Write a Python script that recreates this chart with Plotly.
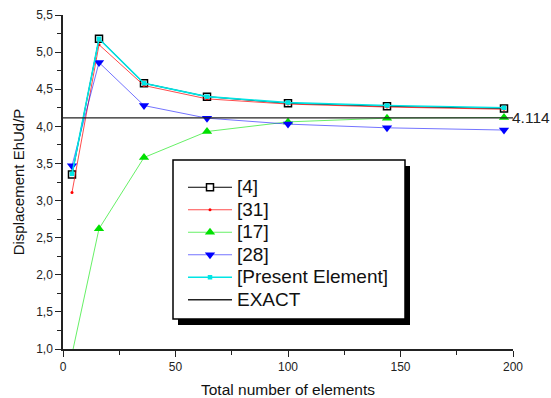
import plotly.graph_objects as go

# Mesh sizes (total number of elements) and displacement results
n_elements = [4, 16, 36, 64, 100, 144, 196]
ref_4 = [3.35, 5.18, 4.58, 4.40, 4.31, 4.27, 4.24]
ref_31 = [3.11, 5.10, 4.55, 4.37, 4.30, 4.26, 4.23]
ref_17 = [0.93, 2.62, 3.58, 3.93, 4.06, 4.11, 4.12]
ref_28 = [3.47, 4.86, 4.28, 4.11, 4.03, 3.98, 3.95]
present = [3.36, 5.18, 4.58, 4.40, 4.32, 4.28, 4.25]
exact_value = 4.114
exact_x = [0, 200]

FONT = "Liberation Sans, Arial, sans-serif"

# plot area in pixels (left, right, top, bottom)
PL, PR, PT, PB = 63, 513, 15, 349


def px_x(v):
    return (v - PL) / (PR - PL)


def px_y(v):
    return (PB - v) / (PB - PT)


def entry(label):
    return f'<span style="font-size:19px">{label}</span>'


fig = go.Figure()

fig.add_trace(go.Scatter(
    x=n_elements, y=ref_4, name=entry("[4]"), mode="lines+markers",
    line=dict(color="black", width=1),
    marker=dict(symbol="square", size=7, color="white",
                line=dict(color="black", width=1.5)),
))
fig.add_trace(go.Scatter(
    x=n_elements, y=ref_31, name=entry("[31]"), mode="lines+markers",
    line=dict(color="rgba(255,0,0,0.7)", width=1),
    marker=dict(symbol="circle", size=3, color="red"),
))
fig.add_trace(go.Scatter(
    x=n_elements, y=ref_17, name=entry("[17]"), mode="lines+markers",
    line=dict(color="rgba(0,230,0,0.6)", width=1),
    marker=dict(symbol="triangle-up", size=9, color="#00e000"),
))
fig.add_trace(go.Scatter(
    x=n_elements, y=ref_28, name=entry("[28]"), mode="lines+markers",
    line=dict(color="rgba(0,0,255,0.55)", width=1),
    marker=dict(symbol="triangle-down", size=9, color="#0000ff"),
))
fig.add_trace(go.Scatter(
    x=n_elements, y=present, name=entry("[Present Element]"), mode="lines+markers",
    line=dict(color="#00e5e5", width=1.6),
    marker=dict(symbol="square", size=4.5, color="#00e5e5"),
))
fig.add_trace(go.Scatter(
    x=exact_x, y=[exact_value, exact_value], name=entry("EXACT"), mode="lines",
    line=dict(color="#222222", width=1.3),
))

# value label for the exact solution at the right end of the line
fig.add_annotation(
    x=exact_x[1], y=exact_value, xref="x", yref="y",
    text=f"{exact_value:.3f}", showarrow=False, xanchor="left", yanchor="middle",
    xshift=-3, font=dict(family=FONT, size=15.5, color="#222222"),
)

# legend frame: drop shadow plus white box with black border
fig.add_shape(
    type="rect", xref="paper", yref="paper", layer="above",
    x0=px_x(178), x1=px_x(410), y0=px_y(325), y1=px_y(166),
    fillcolor="black", line=dict(width=0),
)
fig.add_shape(
    type="rect", xref="paper", yref="paper", layer="above",
    x0=px_x(173), x1=px_x(405), y0=px_y(319), y1=px_y(160),
    fillcolor="white", line=dict(color="black", width=1.5),
)

axis_common = dict(
    showline=True, linecolor="#222222", linewidth=1.5, mirror=False,
    showgrid=False, zeroline=False, ticks="outside", ticklen=6,
    tickwidth=1.3, tickcolor="#222222", automargin=False,
    tickfont=dict(family=FONT, size=12, color="#222222"),
)

fig.update_xaxes(
    range=[0, 200], tickvals=[0, 50, 100, 150, 200],
    minor=dict(ticks="outside", ticklen=4, tickwidth=1.2, tickcolor="#222222", dtick=25),
    title=dict(text="Total number of elements", standoff=12,
               font=dict(family=FONT, size=15.5, color="#111111")),
    **axis_common,
)
fig.update_yaxes(
    range=[1.0, 5.5], dtick=0.5, tick0=1.0, tickformat=".1f",
    minor=dict(ticks="outside", ticklen=4, tickwidth=1.2, tickcolor="#222222", dtick=0.25),
    title=dict(text="Displacement EhUd/P", standoff=8,
               font=dict(family=FONT, size=15, color="#111111")),
    **axis_common,
)

fig.update_layout(
    width=551, height=398,
    margin=dict(l=PL, r=551 - PR, t=PT, b=398 - PB, autoexpand=False),
    paper_bgcolor="white", plot_bgcolor="white",
    separators=",.",
    showlegend=True,
    legend=dict(
        x=px_x(183), y=px_y(171), xanchor="left", yanchor="top",
        bgcolor="rgba(0,0,0,0)", borderwidth=0,
        font=dict(family=FONT, size=15, color="#111111"),
        tracegroupgap=0, itemsizing="trace", itemwidth=44,
    ),
)

fig.write_html("out.html")
